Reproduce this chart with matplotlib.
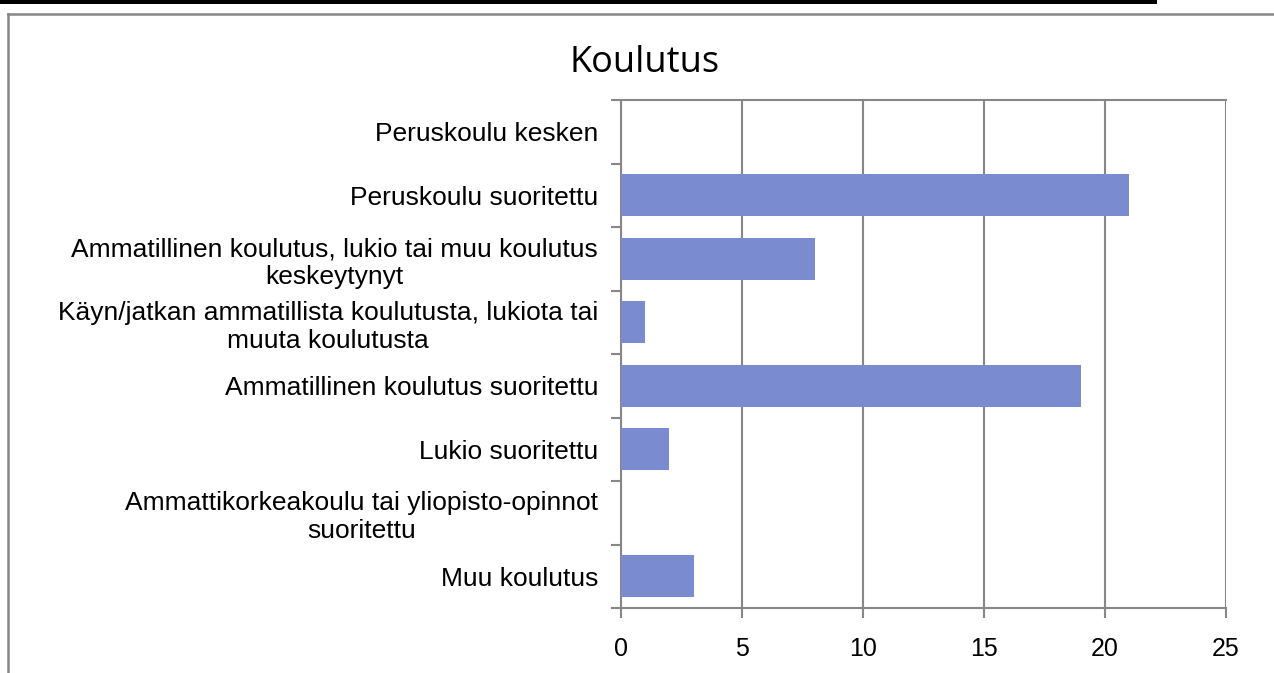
import matplotlib.pyplot as plt
import numpy as np
from matplotlib.lines import Line2D
from matplotlib.patches import Rectangle

# chart data, top to bottom as shown
categories = [
    'Peruskoulu kesken',
    'Peruskoulu suoritettu',
    'Ammatillinen koulutus, lukio tai muu koulutus\nkeskeytynyt',
    'Käyn/jatkan ammatillista koulutusta, lukiota tai\nmuuta koulutusta',
    'Ammatillinen koulutus suoritettu',
    'Lukio suoritettu',
    'Ammattikorkeakoulu tai yliopisto-opinnot\nsuoritettu',
    'Muu koulutus',
]
values = [0, 21, 8, 1, 19, 2, 0, 3]
xticks = [0, 5, 10, 15, 20, 25]

grey = '#878787'
bar_color = '#7B8BCF'

fig = plt.figure(figsize=(12.74, 6.73), dpi=100)
W, H = 1274, 673

# page decorations: black rule at top and the grey chart frame
fig.add_artist(Rectangle((0, 1 - 4 / H), 1157 / W, 4 / H, transform=fig.transFigure,
                         color='black', lw=0))
fig.add_artist(Line2D([8 / W, 1], [1 - 14 / H, 1 - 14 / H], transform=fig.transFigure,
                      color=grey, lw=1.8))
fig.add_artist(Line2D([8 / W, 8 / W], [0, 1 - 14 / H], transform=fig.transFigure,
                      color=grey, lw=1.8))

ax = fig.add_axes([621 / W, 1 - 608 / H, (1226 - 621) / W, (608 - 100) / H])

y = np.arange(len(categories))
ax.barh(y, values, height=0.66, color=bar_color, zorder=3)

ax.set_xlim(0, 25)
ax.set_ylim(len(categories) - 0.5, -0.5)
ax.set_xticks(xticks)
ax.set_xticklabels([str(t) for t in xticks], fontsize=18, family='Liberation Sans')
ax.grid(axis='x', color=grey, lw=1.5, zorder=0)

ax.set_yticks(y)
ax.set_yticklabels(categories, fontsize=19, family='Liberation Sans', linespacing=1.2)
for lab in ax.get_yticklabels():
    lab.set_multialignment('center')
ax.set_yticks(np.arange(-0.5, len(categories), 1), minor=True)
ax.tick_params(axis='y', which='major', length=0, pad=16.5)
ax.tick_params(axis='y', which='minor', length=7, color=grey, width=1.5)
ax.tick_params(axis='x', length=7, color=grey, width=1.5, pad=14)

for s in ax.spines.values():
    s.set_color(grey)
    s.set_linewidth(1.5)
ax.spines['right'].set_visible(False)

fig.text(645 / W, 1 - 63 / H, 'Koulutus', ha='center', va='center', fontsize=26,
         family='Open Sans')

fig.savefig('out.png', dpi=100)
